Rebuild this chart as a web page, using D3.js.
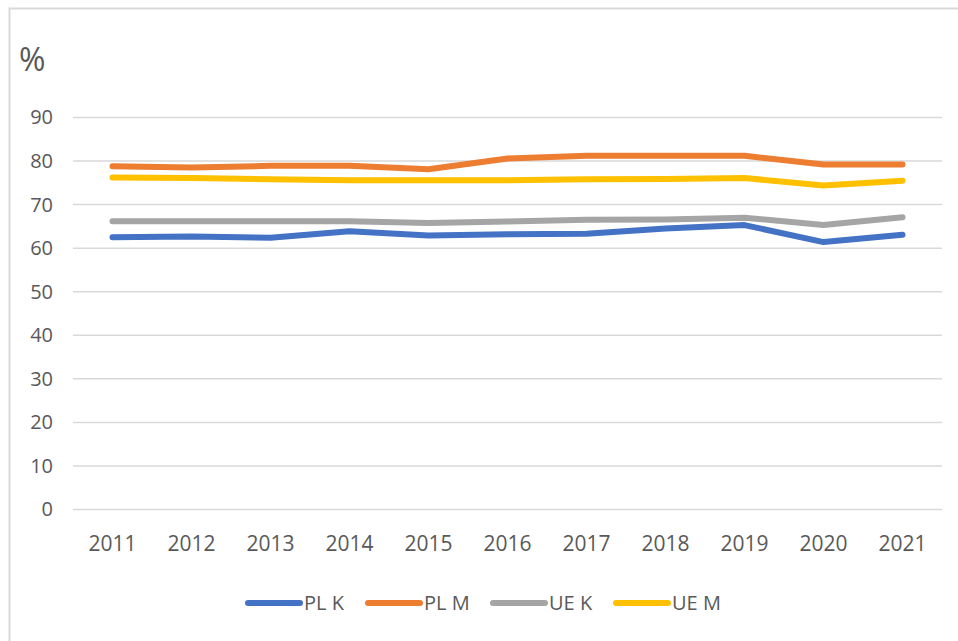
<!DOCTYPE html>
<html>
<head>
<meta charset="utf-8">
<script src="https://cdn.jsdelivr.net/npm/d3@7"></script>
<style>
  body { margin: 0; background: #fff; }
  svg { display: block; }
  text { font-family: "Open Sans", "Liberation Sans", sans-serif; fill: #595959; }
</style>
</head>
<body>
<svg width="958" height="641"></svg>
<script>
// data
var years = ["2011", "2012", "2013", "2014", "2015", "2016", "2017", "2018", "2019", "2020", "2021"];
var yTicks = [0, 10, 20, 30, 40, 50, 60, 70, 80, 90];
var plK = [62.5, 62.7, 62.4, 63.9, 62.9, 63.2, 63.3, 64.5, 65.3, 61.4, 63.1];
var plM = [78.8, 78.5, 78.9, 78.9, 78.1, 80.6, 81.2, 81.2, 81.2, 79.2, 79.2];
var ueK = [66.2, 66.2, 66.2, 66.2, 65.8, 66.1, 66.5, 66.6, 67.0, 65.3, 67.1];
var ueM = [76.2, 76.1, 75.8, 75.6, 75.6, 75.6, 75.8, 75.9, 76.1, 74.4, 75.5];
var seriesNames = ["PL K", "PL M", "UE K", "UE M"];
var seriesColors = ["#4472C4", "#ED7D31", "#A5A5A5", "#FFC000"];

var series = [plK, plM, ueK, ueM].map(function (vals, i) {
    return { name: seriesNames[i], color: seriesColors[i], values: vals };
});

var svg = d3.select("svg");

// chart frame
svg.append("rect")
    .attr("x", 9.5).attr("y", 8.5)
    .attr("width", 980).attr("height", 660)
    .attr("fill", "none")
    .attr("stroke", "#D9D9D9")
    .attr("stroke-width", 2);

var x = d3.scaleBand()
    .domain(years)
    .range([73, 942]);

var y = d3.scaleLinear()
    .domain([0, 90])
    .range([509.5, 117.5]);

// gridlines
svg.append("g")
    .attr("class", "grid")
    .selectAll("line")
    .data(yTicks)
    .enter()
    .append("line")
    .attr("x1", 73).attr("x2", 942)
    .attr("y1", function (d) { return y(d); })
    .attr("y2", function (d) { return y(d); })
    .attr("stroke", "#D9D9D9")
    .attr("stroke-width", 1.5);

// y axis labels
var yAxis = svg.append("g")
    .attr("transform", "translate(73,0)")
    .call(d3.axisLeft(y).tickValues(yTicks).tickSize(0).tickPadding(20));
yAxis.select(".domain").remove();
yAxis.selectAll("text")
    .attr("font-size", 20)
    .attr("font-family", null)
    .attr("fill", "#595959");

// x axis labels
var xAxis = svg.append("g")
    .attr("transform", "translate(0,509.5)")
    .call(d3.axisBottom(x).tickSize(0).tickPadding(27));
xAxis.select(".domain").remove();
xAxis.selectAll("text")
    .attr("font-size", 21)
    .attr("font-family", null)
    .attr("fill", "#595959");

// unit label
svg.append("text")
    .attr("x", 19)
    .attr("y", 71)
    .attr("font-size", 32)
    .text("%");

var line = d3.line()
    .x(function (d, i) { return x(years[i]) + x.bandwidth() / 2; })
    .y(function (d) { return y(d); });

svg.append("g")
    .selectAll("path")
    .data(series)
    .enter()
    .append("path")
    .attr("d", function (d) { return line(d.values); })
    .attr("fill", "none")
    .attr("stroke", function (d) { return d.color; })
    .attr("stroke-width", 6)
    .attr("stroke-linejoin", "round")
    .attr("stroke-linecap", "round");

// legend
var legendX = [248, 368, 493, 616];
var legend = svg.append("g")
    .selectAll("g")
    .data(series)
    .enter()
    .append("g")
    .attr("transform", function (d, i) { return "translate(" + legendX[i] + ",603)"; });

legend.append("line")
    .attr("x1", 0).attr("x2", 52)
    .attr("y1", 0).attr("y2", 0)
    .attr("stroke", function (d) { return d.color; })
    .attr("stroke-width", 6)
    .attr("stroke-linecap", "round");

legend.append("text")
    .attr("x", 56)
    .attr("y", 7)
    .attr("font-size", 20)
    .text(function (d) { return d.name; });
</script>
</body>
</html>
